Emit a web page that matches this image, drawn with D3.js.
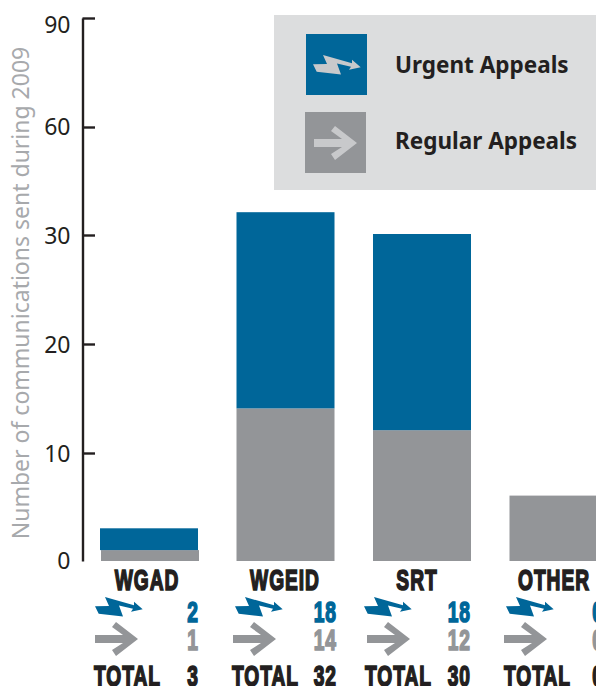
<!DOCTYPE html>
<html><head><meta charset="utf-8">
<script src="https://cdn.jsdelivr.net/npm/d3@7"></script>
<style>html,body{margin:0;padding:0;background:#fff;overflow:hidden}svg{display:block}</style>
</head><body><svg id="c" width="596" height="686"></svg>
<script>
const categories = ["WGAD","WGEID","SRT","OTHER"];
const urgent = [2,18,18,0];
const regular = [1,14,12,6];
const regularPrinted = [1,14,12,0];
const totals = [3,32,30,0];
const axisTicks = [0,10,20,30,60,90];
const legendLabels = ["Urgent Appeals","Regular Appeals"];
const yTitle = "Number of communications sent during 2009";

const BLUE="#006699", GREY="#939598", DARK="#231f20", LIGHT="#c8c9cb", PANEL="#dcddde";
const HEAVY="'Liberation Sans',sans-serif";
const UI="'Noto Sans',sans-serif";

const svg=d3.select("#c");
// bars follow a linear scale; the printed axis is compressed above 30
const yBar=d3.scaleLinear().domain([0,30]).range([561,234]);
const yAxis=d3.scaleLinear().domain(axisTicks).range([561,453,344,235,127,18]);
const x=d3.scaleBand().domain(categories).range([100,607.5]).paddingInner(0.282).paddingOuter(0);

// legend panel
svg.append("rect").attr("x",274).attr("y",15).attr("width",322).attr("height",175).attr("fill",PANEL);

const boltPath="M0 9.3 L14 9 L10 0 L39 8.3 L39 4.7 L47.7 12.3 L36 14.7 L38 11.7 L24 8.5 L28 19.5 L3.7 16.7 Z";
const arrowPath="M0 13 L28 13 L17 5 L21 0 L43 17 L21 34 L17 28 L28 21 L0 21 Z";
function bolt(px,py,fill){svg.append("path").attr("d",boltPath).attr("transform",`translate(${px},${py})`).attr("fill",fill);}
function arrow(px,py,fill){svg.append("path").attr("d",arrowPath).attr("transform",`translate(${px},${py})`).attr("fill",fill);}

svg.append("rect").attr("x",306).attr("y",34).attr("width",61).attr("height",61).attr("fill",BLUE);
svg.append("rect").attr("x",305).attr("y",112).attr("width",61).attr("height",61).attr("fill",GREY);
bolt(313,55,LIGHT);
arrow(314,126,LIGHT);
svg.selectAll("text.leg").data(legendLabels).join("text").attr("class","leg")
  .attr("x",395).attr("y",(d,i)=>[73,149][i])
  .attr("font-family",UI).attr("font-weight",700).attr("font-size",22.5).attr("fill",DARK).text(d=>d);

// axis
const ax=d3.axisLeft(yAxis).tickValues(axisTicks).tickSizeInner(-12.5).tickSizeOuter(0).tickPadding(12).tickFormat(d3.format("d"));
const axG=svg.append("g").attr("transform","translate(82.5,0)").call(ax);
axG.select(".domain").attr("stroke",DARK).attr("stroke-width",2.4);
axG.selectAll(".tick line").attr("stroke",DARK).attr("stroke-width",2.4).filter(d=>d===0).remove();
const labelNudge={0:-1,90:6.5,60:-1};
axG.selectAll(".tick text").attr("font-family",UI).attr("font-size",23).attr("fill",DARK)
  .attr("dy",0).attr("y",d=>8+(labelNudge[d]||0));

svg.append("text").attr("transform","translate(29,293) rotate(-90)").attr("text-anchor","middle")
  .attr("font-family",UI).attr("font-size",23).attr("fill","#a7a9ac").text(yTitle);

// bars
const g=svg.append("g");
g.selectAll("rect.r").data(regular).join("rect").attr("class","r")
  .attr("x",(d,i)=>x(categories[i])+(i==0?1:0)).attr("width",x.bandwidth()).attr("y",d=>yBar(d)).attr("height",d=>yBar(0)-yBar(d)).attr("fill",GREY);
g.selectAll("rect.u").data(urgent).join("rect").attr("class","u")
  .attr("x",(d,i)=>x(categories[i])).attr("width",x.bandwidth())
  .attr("y",(d,i)=>yBar(regular[i]+d)).attr("height",(d,i)=>yBar(regular[i])-yBar(regular[i]+d)).attr("fill",BLUE);

// table under bars: heavy condensed face imitated by squeezing a bold sans
const SQ=0.64;
function heavy(cls,data,xf,y,anchor,fill,size,text){
  svg.selectAll("text."+cls).data(data).join("text").attr("class",cls)
    .attr("transform",(d,i)=>`translate(${xf[i]},${y}) scale(${SQ},1)`)
    .attr("text-anchor",anchor).attr("font-family",HEAVY).attr("font-weight",700)
    .attr("font-size",size).attr("fill",fill).attr("stroke",fill).attr("stroke-width",1.7)
    .attr("letter-spacing",1.5).text(text||(d=>d));
}
const labelX=[147,285,417,554], boltX=[95,235,364,506], arrowX=[95,233,367,504],
      numX=[199,337,471,604], totX=[94,232,365,504];
heavy("cat",categories,labelX,589.5,"middle",DARK,30);
boltX.forEach(v=>bolt(v,597,BLUE));
arrowX.forEach(v=>arrow(v,622,GREY));
heavy("urg",urgent,numX,622,"end",BLUE,30);
heavy("reg",regularPrinted,numX,650,"end",GREY,30);
heavy("tl",totals,totX,686,"start",DARK,30,()=>"TOTAL");
heavy("tv",totals,numX,686,"end",DARK,30);
</script></body></html>
